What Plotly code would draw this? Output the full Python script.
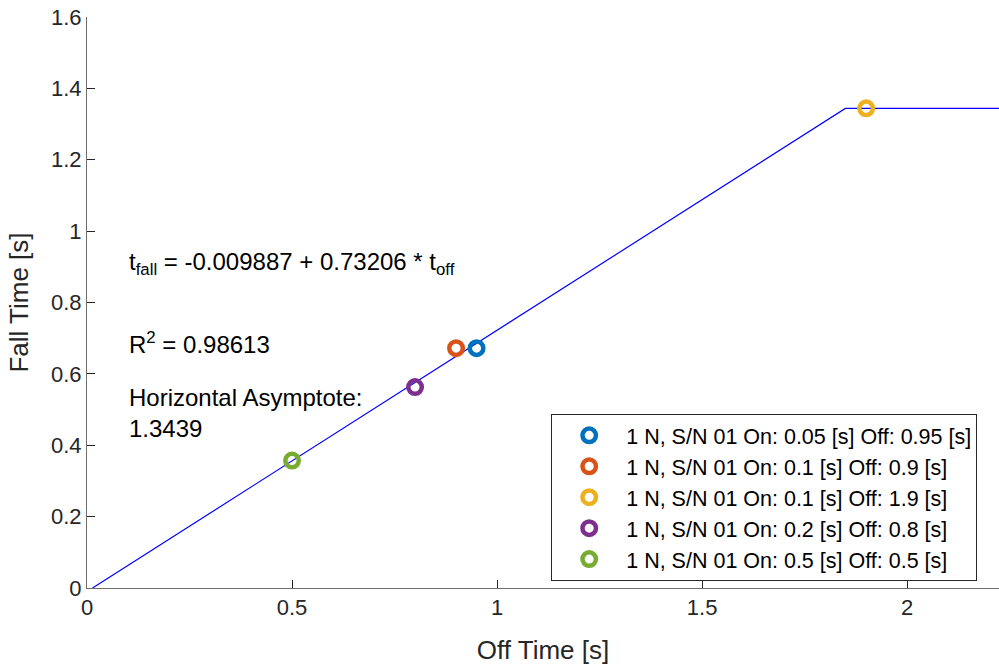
import plotly.graph_objects as go

# data
off_time = [0.95, 0.9, 1.9, 0.8, 0.5]
fall_time = [0.672, 0.672, 1.344, 0.563, 0.357]
labels = [
    "1 N, S/N 01 On: 0.05 [s] Off: 0.95 [s]",
    "1 N, S/N 01 On: 0.1 [s] Off: 0.9 [s]",
    "1 N, S/N 01 On: 0.1 [s] Off: 1.9 [s]",
    "1 N, S/N 01 On: 0.2 [s] Off: 0.8 [s]",
    "1 N, S/N 01 On: 0.5 [s] Off: 0.5 [s]",
]
colors = ["#0072BD", "#D95319", "#EDB120", "#7E2F8E", "#77AC30"]

intercept = -0.009887
slope = 0.73206
asymptote = 1.3439
r2 = 0.98613
x_max = 2.224
y_max = 1.6

x_start = -intercept / slope
x_knee = (asymptote - intercept) / slope
fit_x = [x_start, x_knee, x_max]
fit_y = [intercept + slope * x_start, asymptote, asymptote]

FONT = "Liberation Sans, Arial, Helvetica, sans-serif"
TXT = "#262626"

fig = go.Figure()
fig.add_trace(go.Scatter(x=fit_x, y=fit_y, mode="lines",
                         line=dict(color="#0000FF", width=1.2),
                         showlegend=False, hoverinfo="skip"))
for xi, yi, lab, c in zip(off_time, fall_time, labels, colors):
    fig.add_trace(go.Scatter(x=[xi], y=[yi], mode="markers", name=lab,
                             marker=dict(symbol="circle-open", size=13.5, color=c,
                                         line=dict(width=4.5, color=c))))

ann_font = dict(family=FONT, size=24, color="#000000")
fig.add_annotation(x=0.097, y=0.908, xref="x", yref="y", xanchor="left", yanchor="middle",
                   text=f"t<sub>fall</sub> = {intercept} + {slope} * t<sub>off</sub>",
                   showarrow=False, font=ann_font)
fig.add_annotation(x=0.097, y=0.686, xref="x", yref="y", xanchor="left", yanchor="middle",
                   text=f"R<sup>2</sup> = {r2}",
                   showarrow=False, font=ann_font)
fig.add_annotation(x=0.097, y=0.491, xref="x", yref="y", xanchor="left", yanchor="middle",
                   align="left",
                   text=f"Horizontal Asymptote:<br>{asymptote}",
                   showarrow=False, font=ann_font)

fig.update_layout(
    width=999, height=667,
    margin=dict(l=87, r=0, t=17, b=79),
    plot_bgcolor="white", paper_bgcolor="white",
    font=dict(family=FONT, size=22, color=TXT),
    showlegend=True,
    legend=dict(x=0.509, y=0.305, xanchor="left", yanchor="top",
                bgcolor="white", bordercolor=TXT, borderwidth=1,
                font=dict(family=FONT, size=21.5, color="#000000"),
                itemwidth=64),
)
fig.update_xaxes(range=[0, x_max], tickvals=[0, 0.5, 1, 1.5, 2],
                 ticktext=["0", "0.5", "1", "1.5", "2"], automargin=False,
                 ticklabeloverflow="allow",
                 showgrid=False, zeroline=False, showline=True, linecolor="#6e6e6e",
                 linewidth=1, ticks="inside", ticklen=8, tickcolor=TXT,
                 title=dict(text="Off Time [s]", font=dict(size=26), standoff=21),
                 tickfont=dict(size=22))
fig.update_yaxes(range=[0, y_max], tickvals=[0, 0.2, 0.4, 0.6, 0.8, 1, 1.2, 1.4, 1.6],
                 ticktext=["0", "0.2", "0.4", "0.6", "0.8", "1", "1.2", "1.4", "1.6"],
                 automargin=False, ticklabeloverflow="allow",
                 showgrid=False, zeroline=False, showline=True, linecolor="#6e6e6e",
                 linewidth=1, ticks="inside", ticklen=8, tickcolor=TXT,
                 title=dict(text="Fall Time [s]", font=dict(size=26), standoff=14),
                 tickfont=dict(size=22))

fig.write_html("out.html", config={"displayModeBar": False},
               post_script="document.body.style.margin='0';")
